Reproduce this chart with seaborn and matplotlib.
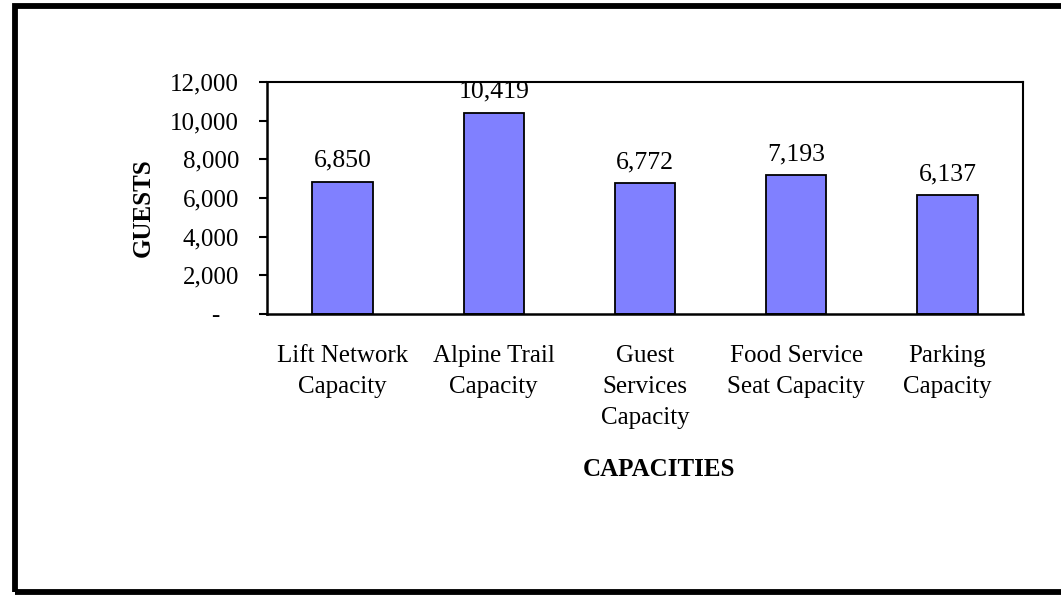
import matplotlib
matplotlib.use("Agg")
import matplotlib.pyplot as plt
from matplotlib.patches import Rectangle
from matplotlib.ticker import FuncFormatter
import numpy as np
import pandas as pd
import seaborn as sns

# Data
categories = ["Lift Network\nCapacity", "Alpine Trail\nCapacity", "Guest\nServices\nCapacity",
              "Food Service\nSeat Capacity", "Parking\nCapacity"]
guests = [6850, 10419, 6772, 7193, 6137]
y_ticks = [0, 2000, 4000, 6000, 8000, 10000, 12000]


def generate_graph():
    sns.set_theme(style="white")
    plt.rcParams["font.family"] = ["Liberation Serif", "DejaVu Serif"]
    plt.rcParams.update({"text.color": "black", "axes.labelcolor": "black",
                         "xtick.color": "black", "ytick.color": "black"})

    W, H = 1061, 595
    fig = plt.figure(figsize=(W / 100, H / 100), dpi=100)
    ax = fig.add_axes([267 / W, 1 - 314 / H, (1023 - 267) / W, (314 - 82) / H])

    df = pd.DataFrame({"cat": categories, "guests": guests})
    sns.barplot(data=df, x="cat", y="guests", ax=ax, color="#8080FF",
                saturation=1, width=0.4, edgecolor="black", linewidth=1.3)

    # Value labels above bars
    for i, v in enumerate(guests):
        ax.text(i, v + 500, f"{v:,}", ha="center", va="bottom", fontsize=18.5, color="black")

    ax.set_xlim(-0.5, len(categories) - 0.5)
    ax.set_ylim(0, 12000)
    ax.set_yticks(y_ticks)
    ax.yaxis.set_major_formatter(FuncFormatter(lambda v, p: "-   " if v == 0 else f"{int(v):,}"))

    # Category labels at centres, tick marks at boundaries
    ax.set_xticks(range(len(categories)))
    ax.set_xticklabels(categories, fontsize=18, linespacing=1.55)
    ax.set_xticks(np.arange(-0.5, len(categories), 1), minor=True)
    ax.tick_params(axis="x", which="major", length=0, pad=22)
    ax.tick_params(axis="x", which="minor", length=6, width=1.5, color="black", direction="out")
    ax.tick_params(axis="y", which="major", length=6, width=1.5, color="black",
                   direction="out", labelsize=18, pad=14)
    ax.tick_params(axis="both", bottom=True, left=True)
    for lab in ax.get_xticklabels():
        lab.set_verticalalignment("top")

    for side in ["left", "bottom"]:
        ax.spines[side].set_color("black")
        ax.spines[side].set_linewidth(1.8)
    for side in ["top", "right"]:
        ax.spines[side].set_color("black")
        ax.spines[side].set_linewidth(1.5)

    ax.set_xlabel("CAPACITIES", fontsize=18, fontweight="bold")
    ax.set_ylabel("GUESTS", fontsize=18, fontweight="bold")
    ax.xaxis.set_label_coords(0.518, -0.62)
    ax.yaxis.set_label_coords(-0.149, 0.457)

    # Outer frame of the chart
    frame = Rectangle((14.5 / W, 1 - 591.5 / H), (1075 - 14.5) / W, (591.5 - 6) / H,
                      transform=fig.transFigure, fill=False, edgecolor="black",
                      linewidth=4.2, zorder=10)
    fig.patches.append(frame)

    fig.savefig("out.png", dpi=100)


if __name__ == "__main__":
    generate_graph()
